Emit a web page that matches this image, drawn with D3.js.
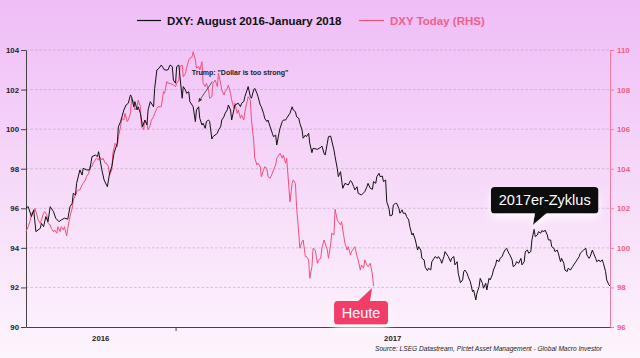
<!DOCTYPE html>
<html><head><meta charset="utf-8">
<script src="https://cdn.jsdelivr.net/npm/d3@7"></script>
<style>html,body{margin:0;padding:0;background:#fff;} svg{display:block;font-family:"Liberation Sans",Arial,Helvetica,sans-serif;}</style>
</head><body><svg id="c" width="640" height="358"></svg>
<script>
// ---------- DATA ----------
const startDate = new Date(2016, 7, 18);   // day 0 of the 2016-2018 cycle
const endDay = 531;                        // ~ 31 Jan 2018
const leftTicks = [90, 92, 94, 96, 98, 100, 102, 104];
const rightTicks = [96, 98, 100, 102, 104, 106, 108, 110];
const yearLabels = ["2016", "2017"];
const yearStarts = [new Date(2016, 0, 1), new Date(2017, 0, 1)];
const legendLabels = ["DXY: August 2016-January 2018", "DXY Today (RHS)"];
const sourceText = "Source: LSEG Datastream, Pictet Asset Management - Global Macro Investor";

// [day offset, DXY] black series (LHS)
const dxyCycle = [
[0,96.02],[2,96.08],[5,95.58],[7,95.92],[9,94.82],[13,94.99],[14,95.24],[16,95.07],[18,95.58],[20,95.32],
[22,96.08],[25,95.83],[27,95.50],[30,95.32],[32,95.41],[35,95.50],[38,95.45],[40,96.08],[42,96.25],[43,96.76],
[45,96.67],[46,97.26],[49,97.94],[51,97.68],[52,98.02],[55,97.94],[58,97.94],[60,98.61],[63,98.69],[65,98.61],
[66,98.86],[69,97.94],[71,97.43],[74,97.09],[76,97.77],[78,98.10],[80,98.78],[83,99.29],[84,100.12],[86,100.38],
[89,100.97],[91,101.22],[93,101.31],[95,101.73],[96,101.64],[98,101.13],[99,101.39],[101,100.97],[102,101.13],[104,100.80],
[106,100.12],[108,100.46],[110,100.21],[111,100.97],[113,101.39],[116,101.13],[117,102.06],[119,102.99],[121,103.08],[123,103.24],
[126,102.99],[129,102.99],[131,103.24],[133,103.16],[134,102.48],[136,102.32],[137,103.16],[139,103.24],[140,102.65],[142,101.56],
[143,102.15],[145,101.98],[146,101.81],[148,101.89],[149,101.39],[151,101.22],[152,101.13],[154,100.38],[155,100.97],[157,101.13],
[158,100.55],[160,100.21],[161,100.30],[163,100.04],[164,100.38],[166,100.46],[167,100.38],[169,99.50],[170,99.62],[174,99.79],
[175,99.96],[177,100.12],[178,100.46],[180,100.63],[181,100.80],[183,100.97],[184,101.22],[186,100.97],[187,100.46],[189,100.97],
[190,101.22],[193,101.31],[195,101.13],[196,101.31],[198,101.39],[199,101.64],[201,101.98],[202,102.15],[204,101.64],[205,101.56],
[207,101.98],[208,102.06],[210,101.81],[211,101.64],[213,101.22],[214,101.13],[216,100.80],[217,100.55],[219,100.38],[220,100.46],
[222,100.12],[224,99.79],[225,99.62],[227,99.70],[228,99.20],[230,99.79],[231,100.04],[233,100.38],[234,100.46],[236,100.46],
[237,100.55],[239,100.72],[240,100.80],[242,101.13],[243,100.97],[245,100.88],[246,100.63],[248,100.55],[249,100.30],[251,99.96],
[252,99.54],[254,99.70],[255,99.62],[257,99.79],[258,99.29],[260,98.81],[261,99.03],[265,98.98],[268,99.08],[269,99.15],
[271,98.78],[272,98.69],[274,99.29],[275,99.62],[277,99.65],[280,98.95],[281,98.61],[283,98.02],[284,97.60],[286,97.85],
[288,97.01],[290,97.26],[293,97.18],[295,97.40],[296,97.35],[298,97.09],[299,96.93],[301,97.09],[302,96.76],[305,96.67],
[308,96.84],[310,97.09],[311,97.26],[313,97.01],[315,96.96],[316,97.35],[318,97.26],[319,97.60],[321,97.77],[322,97.60],
[324,97.63],[325,97.35],[327,97.43],[328,96.33],[330,96.00],[331,95.61],[333,95.66],[334,96.17],[336,96.25],[337,96.25],
[339,96.00],[340,95.75],[342,95.92],[343,95.75],[345,95.75],[346,95.58],[348,95.41],[349,95.07],[351,94.65],[352,94.74],
[354,94.40],[356,93.89],[357,94.06],[359,93.89],[360,93.47],[362,93.39],[363,93.02],[365,92.85],[366,92.97],[368,92.88],
[369,93.30],[371,93.47],[372,93.56],[374,93.47],[375,93.56],[377,93.39],[378,93.22],[380,93.56],[381,93.81],[383,93.64],
[384,93.56],[386,93.30],[387,93.47],[389,93.56],[390,93.14],[392,93.30],[393,92.72],[395,92.24],[397,92.38],[398,92.80],
[399,92.88],[401,92.72],[402,92.55],[404,92.29],[406,91.79],[407,91.87],[409,91.37],[410,91.71],[412,92.04],[413,92.46],
[415,92.21],[416,91.96],[418,92.21],[419,91.87],[421,92.46],[422,92.38],[424,92.63],[425,92.88],[427,93.14],[428,93.39],
[430,93.30],[431,93.47],[433,93.56],[434,93.73],[436,93.93],[437,93.98],[439,93.73],[440,93.64],[442,93.39],[443,93.05],
[445,93.14],[446,93.30],[448,93.22],[450,93.47],[451,93.14],[453,93.30],[454,93.81],[456,93.89],[457,93.73],[459,93.81],
[460,94.40],[462,94.94],[463,94.57],[465,94.65],[466,94.82],[468,94.74],[469,94.87],[471,94.82],[472,94.90],[474,94.65],
[475,94.40],[477,94.40],[478,94.06],[480,93.98],[481,93.81],[483,93.89],[484,93.73],[486,93.30],[487,93.47],[489,93.22],
[490,92.88],[492,92.80],[493,92.97],[495,92.88],[497,93.05],[498,93.14],[500,93.30],[501,93.39],[503,93.56],[504,93.73],
[507,93.89],[509,93.98],[510,93.64],[512,93.47],[513,93.56],[515,93.89],[516,93.73],[518,93.47],[519,93.30],[521,93.39],
[522,93.30],[524,93.39],[525,93.22],[527,92.80],[528,92.38],[530,92.13],[531,92.07]
];

// [day offset, DXY] today's series aligned on the cycle (RHS)
const dxyToday = [
[0,100.82],[2,101.07],[4,101.41],[5,101.75],[7,101.83],[8,102.00],[10,101.66],[11,101.41],[13,101.24],[14,101.41],
[16,101.75],[17,101.83],[19,101.66],[20,101.24],[22,101.16],[23,100.99],[25,100.82],[26,100.90],[28,100.74],[29,101.07],
[31,100.82],[32,101.07],[34,100.90],[35,101.07],[37,100.60],[38,100.99],[40,101.58],[42,102.00],[43,102.42],[45,102.67],
[46,102.84],[48,102.93],[49,102.93],[51,103.18],[52,103.26],[54,103.43],[55,103.60],[57,103.77],[58,104.10],[60,104.10],
[61,104.28],[63,104.44],[64,104.53],[66,104.44],[67,104.61],[69,104.44],[70,104.53],[72,104.28],[73,104.28],[75,104.10],
[76,103.68],[78,103.94],[79,104.78],[81,105.29],[83,105.11],[84,105.62],[86,106.12],[87,106.55],[89,106.46],[90,106.80],
[92,106.38],[93,106.46],[95,106.80],[96,107.56],[98,107.39],[99,106.97],[101,107.13],[102,107.47],[104,107.13],[105,106.12],
[107,105.96],[108,106.46],[110,106.30],[111,105.96],[113,106.21],[114,106.46],[116,106.63],[117,106.80],[119,107.05],[120,107.13],
[122,107.13],[123,107.13],[125,107.89],[126,107.81],[128,108.40],[129,108.32],[131,108.32],[134,108.23],[136,108.15],[137,108.32],
[139,108.48],[140,109.16],[142,109.24],[143,108.65],[145,108.82],[146,109.08],[148,109.49],[149,109.58],[151,109.66],[152,109.91],
[154,109.49],[155,109.08],[157,109.16],[158,108.99],[160,109.41],[161,108.32],[163,108.15],[164,108.32],[166,107.98],[167,107.56],
[169,107.64],[170,108.32],[172,108.48],[174,108.15],[175,108.82],[177,108.32],[178,107.98],[180,107.73],[181,107.89],[183,108.06],
[184,108.23],[186,107.81],[187,107.47],[189,107.05],[190,107.31],[192,106.80],[193,106.97],[195,106.55],[196,106.72],[198,106.46],
[199,106.88],[201,107.39],[202,107.64],[204,107.47],[205,106.46],[207,105.45],[208,104.53],[210,104.19],[211,104.28],[213,104.10],
[214,103.60],[216,103.94],[217,104.10],[219,104.02],[220,103.60],[222,103.52],[224,103.77],[225,103.94],[227,104.19],[228,104.53],
[230,104.69],[231,104.78],[233,104.53],[234,104.69],[236,104.28],[237,104.53],[239,103.09],[240,102.33],[242,103.26],[243,103.43],
[245,103.26],[246,102.08],[248,100.74],[249,99.98],[251,100.31],[252,100.40],[254,99.56],[255,99.56],[257,99.39],[258,98.46],
[260,99.05],[261,99.98],[263,99.89],[265,99.22],[266,99.39],[268,99.47],[269,99.98],[271,100.40],[272,100.23],[274,99.89],
[275,99.47],[277,100.15],[278,100.74],[280,100.65],[281,101.95],[283,101.41],[284,101.32],[286,101.16],[287,101.32],[289,100.57],
[290,100.23],[292,99.89],[293,100.06],[295,99.64],[296,99.81],[298,99.98],[299,100.06],[301,99.56],[302,99.39],[304,98.88],
[305,99.14],[307,98.97],[308,99.39],[310,99.14],[311,99.05],[313,99.22],[315,98.63],[316,98.07]
];

// annotations anchored on data
const trumpNote = { day: 157, value: 101.13, text: 'Trump: "Dollar is too strong"' };
const cycleNote = { day: 462, value: 94.94, text: "2017er-Zyklus" };
const todayNote = { text: "Heute" };

// ---------- DRAW ----------
const W = 640, H = 358;
const m = { left: 26, right: 610, top: 50, bottom: 327 };
const svg = d3.select("#c");
const defs = svg.append("defs");
const bg = defs.append("linearGradient").attr("id", "bg").attr("x1", 0).attr("y1", 0).attr("x2", 0).attr("y2", 1);
bg.append("stop").attr("offset", "0%").attr("stop-color", "#efbdf7");
bg.append("stop").attr("offset", "55%").attr("stop-color", "#f7dcf9");
bg.append("stop").attr("offset", "100%").attr("stop-color", "#fdf5fd");
const sh = defs.append("filter").attr("id", "sh").attr("x", "-30%").attr("y", "-30%").attr("width", "160%").attr("height", "200%");
sh.append("feDropShadow").attr("dx", 0).attr("dy", 5).attr("stdDeviation", 4).attr("flood-color", "#ffffff").attr("flood-opacity", 0.8);
defs.append("marker").attr("id", "arr").attr("viewBox", "0 0 10 10").attr("refX", 9).attr("refY", 5)
  .attr("markerWidth", 5).attr("markerHeight", 5).attr("orient", "auto")
  .append("path").attr("d", "M0,0 L10,5 L0,10 z").attr("fill", "#333");

svg.append("rect").attr("width", W).attr("height", H).attr("fill", "url(#bg)");

const dayDate = d => d3.timeDay.offset(startDate, d);
const x = d3.scaleTime().domain([startDate, dayDate(endDay)]).range([m.left, m.right]);
const yL = d3.scaleLinear().domain([90, 104]).range([m.bottom, m.top]);
const yR = d3.scaleLinear().domain([96, 110]).range([m.bottom, m.top]);

// gridlines
svg.append("g").selectAll("line").data(leftTicks.filter(t => t > 90)).join("line")
  .attr("x1", m.left).attr("x2", m.right).attr("y1", d => yL(d)).attr("y2", d => yL(d))
  .attr("stroke", "#b9a3bf").attr("stroke-width", 0.6).attr("stroke-dasharray", "2.5,2");

// left axis
const gL = svg.append("g").attr("transform", `translate(${m.left},0)`)
  .call(d3.axisLeft(yL).tickValues(leftTicks).tickSize(5).tickPadding(2).tickSizeOuter(0));
gL.select(".domain").attr("stroke", "#444");
gL.selectAll(".tick line").attr("stroke", "#444");
gL.selectAll(".tick text").attr("fill", "#222").attr("font-size", 7.8).attr("font-weight", "bold")
  .attr("font-family", "Liberation Sans, Arial, sans-serif");

// right axis
const pink = "#f25c86";
const gR = svg.append("g").attr("transform", `translate(${m.right},0)`)
  .call(d3.axisRight(yR).tickValues(rightTicks).tickSize(4).tickPadding(3).tickSizeOuter(0));
gR.select(".domain").attr("stroke", "#f47aa0");
gR.selectAll(".tick line").attr("stroke", "#f47aa0");
gR.selectAll(".tick text").attr("fill", pink).attr("font-size", 7.8).attr("font-weight", "bold")
  .attr("font-family", "Liberation Sans, Arial, sans-serif");

// bottom axis
const gX = svg.append("g").attr("transform", `translate(0,${m.bottom})`)
  .call(d3.axisBottom(x).tickValues([yearStarts[1]]).tickSize(4).tickFormat("").tickSizeOuter(0));
gX.select(".domain").attr("stroke", "#444");
gX.selectAll(".tick line").attr("stroke", "#444");
const [d0, d1] = x.domain();
svg.append("g").selectAll("text").data(yearLabels).join("text")
  .attr("x", (t, i) => {
    const a = yearStarts[i] < d0 ? d0 : yearStarts[i];
    const b = i + 1 < yearStarts.length ? yearStarts[i + 1] : d1;
    return (x(a) + x(b)) / 2;
  })
  .attr("y", m.bottom + 14).attr("text-anchor", "middle").attr("font-size", 7.8)
  .attr("font-weight", "bold").attr("fill", "#222").text(t => t);

// lines
const lineL = d3.line().x(d => x(dayDate(d[0]))).y(d => yL(d[1]));
const lineR = d3.line().x(d => x(dayDate(d[0]))).y(d => yR(d[1]));
svg.append("path").datum(dxyToday).attr("d", lineR).attr("fill", "none")
  .attr("stroke", "#f0507c").attr("stroke-width", 1).attr("stroke-linejoin", "round");
svg.append("path").datum(dxyCycle).attr("d", lineL).attr("fill", "none")
  .attr("stroke", "#111").attr("stroke-width", 1).attr("stroke-linejoin", "round");

// legend
const lg = svg.append("g").attr("font-size", 11.5).attr("font-weight", "bold");
lg.append("line").attr("x1", 137).attr("x2", 161).attr("y1", 20.5).attr("y2", 20.5).attr("stroke", "#111").attr("stroke-width", 1.2);
lg.append("text").attr("x", 167).attr("y", 24.5).attr("fill", "#111").text(legendLabels[0]);
lg.append("line").attr("x1", 359).attr("x2", 384).attr("y1", 20.5).attr("y2", 20.5).attr("stroke", "#f0507c").attr("stroke-width", 1.2);
lg.append("text").attr("x", 390).attr("y", 24.5).attr("fill", "#f0608a").text(legendLabels[1]);

// Trump annotation
{
  const tx = x(dayDate(trumpNote.day)), ty = yL(trumpNote.value) - 5;
  svg.append("line").attr("x1", tx + 13.5).attr("y1", ty - 20).attr("x2", tx).attr("y2", ty)
    .attr("stroke", "#333").attr("stroke-width", 0.8).attr("marker-end", "url(#arr)");
  svg.append("text").attr("x", tx - 6.8).attr("y", ty - 26.3).attr("font-size", 7).attr("font-weight", "bold")
    .attr("fill", "#222").text(trumpNote.text);
}

// 2017er-Zyklus callout
{
  const tx = x(dayDate(cycleNote.day)) - 1.2, ty = yL(cycleNote.value) - 4.3;
  const g = svg.append("g").attr("filter", "url(#sh)");
  g.append("rect").attr("x", tx - 42).attr("y", ty - 38).attr("width", 107.5).attr("height", 26.5).attr("rx", 3.5).attr("fill", "#0a0a0a");
  g.append("path").attr("d", `M${tx + 2},${ty - 12} L${tx + 14},${ty - 12} L${tx},${ty} Z`).attr("fill", "#0a0a0a");
  svg.append("text").attr("x", tx + 11.8).attr("y", ty - 19.7).attr("text-anchor", "middle").attr("font-size", 14.5)
    .attr("fill", "#fff").text(cycleNote.text);
}

// Heute callout at the end of today's series
{
  const last = dxyToday[dxyToday.length - 1];
  const tx = x(dayDate(last[0])) - 1.5, ty = yR(last[1]) + 2;
  const g = svg.append("g").attr("filter", "url(#sh)");
  g.append("rect").attr("x", tx - 38).attr("y", ty + 13).attr("width", 54).attr("height", 23.5).attr("rx", 3.5).attr("fill", "#f23e69");
  g.append("path").attr("d", `M${tx - 15},${ty + 14} L${tx - 2},${ty + 14} L${tx},${ty} Z`).attr("fill", "#f23e69");
  svg.append("text").attr("x", tx - 11).attr("y", ty + 30).attr("text-anchor", "middle").attr("font-size", 14.5)
    .attr("fill", "#fff").text(todayNote.text);
}

// source
svg.append("text").attr("x", 602).attr("y", 350.5).attr("text-anchor", "end").attr("font-size", 6.6)
  .attr("font-style", "italic").attr("fill", "#222").text(sourceText);
</script></body></html>
